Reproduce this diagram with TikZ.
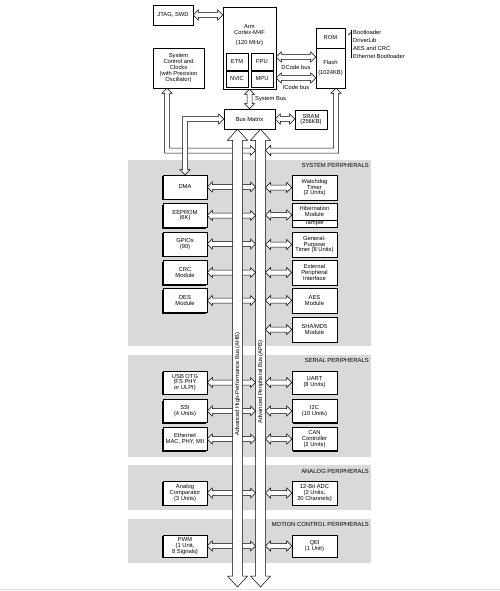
\documentclass[tikz,border=0pt]{standalone}
\usepackage{fontspec}
\setmainfont{Liberation Sans}
\usetikzlibrary{calc,shadows}
\newcommand\diafs{\fontsize{5.8}{5.8}\selectfont}
\newcommand\diafsw{\fontsize{5.8}{8}\selectfont}
\newcommand\diafsl{\fontsize{5.9}{6}\selectfont}
\def\arsw{2.5pt}\def\arhw{5pt}\def\arhl{5pt}
\tikzset{
  box/.style={draw, line width=0.6pt, fill=white, inner sep=0pt, align=center, font=\diafs},
  lbox/.style={box, minimum width=44pt, drop shadow={shadow xshift=-1pt, shadow yshift=-1pt, fill=black, opacity=1}},
  rbox/.style={box, minimum width=45pt, drop shadow={shadow xshift=1pt, shadow yshift=-1pt, fill=black, opacity=1}},
  panel/.style={fill=black!15, draw=none},
  plabel/.style={anchor=east, inner sep=0pt, font=\diafsl, text=black},
  lbl/.style={inner sep=0pt, font=\diafs},
  blk/.style={draw, line width=0.5pt, fill=white},
  harrow/.style={blk, to path={let \p1=(\tikztostart), \p2=(\tikztotarget) in
    (\p1) -- (\x1+\arhl,\y1+\arhw) -- (\x1+\arhl,\y1+\arsw) -- (\x2-\arhl,\y1+\arsw)
    -- (\x2-\arhl,\y1+\arhw) -- (\x2,\y1) -- (\x2-\arhl,\y1-\arhw) -- (\x2-\arhl,\y1-\arsw)
    -- (\x1+\arhl,\y1-\arsw) -- (\x1+\arhl,\y1-\arhw) -- cycle}},
  varrow/.style={blk, to path={let \p1=(\tikztostart), \p2=(\tikztotarget) in
    (\p1) -- (\x1+\arhw,\y1-\arhl) -- (\x1+\arsw,\y1-\arhl) -- (\x1+\arsw,\y2+\arhl)
    -- (\x1+\arhw,\y2+\arhl) -- (\x1,\y2) -- (\x1-\arhw,\y2+\arhl) -- (\x1-\arsw,\y2+\arhl)
    -- (\x1-\arsw,\y1-\arhl) -- (\x1-\arhw,\y1-\arhl) -- cycle}}
}
\begin{document}
\begin{tikzpicture}[x=1pt,y=-1pt]
\useasboundingbox (0,0) rectangle (500,591);
\draw[black!12, line width=0.6pt] (0,589) -- (500,589);

% panels
\fill[panel] (128,160) rectangle (371,346);
\fill[panel] (128,355) rectangle (371,457);
\fill[panel] (128,465) rectangle (371,510);
\fill[panel] (128,519) rectangle (371,563);
\node[plabel] (lsys) at (369,165) {SYSTEM PERIPHERALS};
\node[plabel] (lser) at (369,360) {SERIAL PERIPHERALS};
\node[plabel] (lana) at (369,471) {ANALOG PERIPHERALS};
\node[plabel] (lmot) at (369,524) {MOTION CONTROL PERIPHERALS};

% top blocks
\node[box, minimum width=40pt, minimum height=20pt] (jtag) at (173,15) {JTAG, SWD};
\node[box, minimum width=53pt, minimum height=82pt] (arm) at (249.5,48) {};
\node[lbl, align=center] (armtxt) at (249.5,35) {Arm\\Cortex-M4F\\[4.2pt](120 MHz)};
\node[box, minimum width=22pt, minimum height=17pt] (etm) at (237,61.5) {ETM};
\node[box, minimum width=22pt, minimum height=17pt] (fpu) at (262,61.5) {FPU};
\node[box, minimum width=22pt, minimum height=16pt] (nvic) at (237,79) {NVIC};
\node[box, minimum width=22pt, minimum height=16pt] (mpu) at (262,79) {MPU};
\node[box, minimum width=29pt, minimum height=20pt] (rom) at (330.5,38) {ROM};
\node[box, minimum width=29pt, minimum height=40pt] (flash) at (330.5,68) {Flash\\[4pt](1024KB)};
\node[inner sep=0pt, font=\diafsw, align=left, anchor=west] (boot) at (353,44) {Bootloader\\DriverLib\\AES and CRC\\Ethernet Bootloader};
\draw[line width=0.9pt] ([xshift=-2pt]boot.north west) -- ([xshift=-2pt]boot.south west);
\draw[line width=0.6pt] ([xshift=-2pt,yshift=-3pt]boot.north west) -- ++(-3,2.5);
\node[box, minimum width=51pt, minimum height=40pt] (sysctl) at (178.5,68) {System\\Control and\\Clocks\\(with Precision\\Oscillator)};
\node[box, minimum width=51pt, minimum height=20pt] (busm) at (249.5,119) {Bus Matrix};
\node[box, minimum width=32pt, minimum height=19pt] (sram) at (311,119.5) {SRAM\\(256KB)};
\node[lbl] (dcl) at (296,67) {DCode bus};
\node[lbl] (icl) at (296,87) {ICode bus};
\node[lbl, anchor=west] (sbl) at (255,99) {System Bus};

% system peripherals
\node[lbox, minimum height=24pt] (dma) at (185,187) {DMA};
\node[lbox, minimum height=24pt] (eeprom) at (185,215.5) {EEPROM\\(6K)};
\node[lbox, minimum height=24pt] (gpio) at (185,244) {GPIOs\\(90)};
\node[lbox, minimum height=24pt] (crc) at (185,272.5) {CRC\\Module};
\node[lbox, minimum height=24pt] (des) at (185,300.5) {DES\\Module};
\node[rbox, minimum height=25pt] (wdt) at (314.5,187.5) {Watchdog\\Timer\\(2 Units)};
\node[rbox, minimum height=17pt] (hib) at (314.5,211.5) {Hibernation\\Module};
\node[rbox, minimum height=7pt] (tamper) at (314.5,223.5) {Tamper};
\node[rbox, minimum height=25pt] (gpt) at (314.5,244.5) {General-\\Purpose\\Timer (8 Units)};
\node[rbox, minimum height=25pt] (epi) at (314.5,272.5) {External\\Peripheral\\Interface};
\node[rbox, minimum height=25pt] (aes) at (314.5,300.5) {AES\\Module};
\node[rbox, minimum height=25pt] (sha) at (314.5,329.5) {SHA/MD5\\Module};

% serial
\node[lbox, minimum height=23pt] (usb) at (185,382.5) {USB OTG\\(FS PHY\\or ULPI)};
\node[lbox, minimum height=23pt] (ssi) at (185,411) {SSI\\(4 Units)};
\node[lbox, minimum height=23pt] (eth) at (185,439) {Ethernet\\MAC, PHY, MII};
\node[rbox, minimum height=23pt] (uart) at (314.5,382.5) {UART\\(8 Units)};
\node[rbox, minimum height=23pt] (i2c) at (314.5,411) {I2C\\(10 Units)};
\node[rbox, minimum height=23pt] (can) at (314.5,439) {CAN\\Controller\\(2 Units)};

% analog, motion
\node[lbox, minimum height=24pt] (acmp) at (185,493) {Analog\\Comparator\\(3 Units)};
\node[rbox, minimum height=24pt] (adc) at (314.5,493) {12-Bit ADC\\(2 Units,\\20 Channels)};
\node[lbox, minimum height=22pt] (pwm) at (185,546) {PWM\\(1 Unit,\\8 Signals)};
\node[rbox, minimum height=22pt] (qei) at (314.5,546) {QEI\\(1 Unit)};

% bus edge coordinates
\coordinate (apbL) at (255.5,0);
\coordinate (apbR) at (265.5,0);
\coordinate (ahbEnd) at (237.5,587);
\coordinate (apbEnd) at (260.5,587);

% left peripheral arrows (pass under AHB)
\foreach \nm in {dma,eeprom,gpio,crc,des,usb,ssi,eth,acmp,pwm}
  \draw[harrow] (\nm.east) to (apbL);
% right peripheral arrows
\foreach \nm in {wdt,gpt,epi,aes,sha,uart,i2c,can,adc,qei}
  \draw[harrow] (apbR |- \nm.west) to (\nm.west);
\draw[harrow] (apbR |- 0,215) to (hib.west);

% top arrows
\draw[harrow] (jtag.east) to (arm.west);
\draw[harrow] (arm.east |- 0,57) to (flash.west);
\draw[harrow] (arm.east |- 0,78) to (flash.west);
\draw[harrow] (busm.east) to (sram.west);
\draw[varrow] (arm.south) to (busm.north);

% L-shaped arrows
\draw[blk] let \p1=(167,0 |- sysctl.south), \p2=(apbL |- 0,150.5) in
  (\p1) -- (\x1+\arhw,\y1-\arhl) -- (\x1+\arsw,\y1-\arhl) -- (\x1+\arsw,\y2+\arsw)
  -- (\x2-\arhl,\y2+\arsw) -- (\x2-\arhl,\y2+\arhw) -- (\x2,\y2) -- (\x2-\arhl,\y2-\arhw)
  -- (\x2-\arhl,\y2-\arsw) -- (\x1-\arsw,\y2-\arsw) -- (\x1-\arsw,\y1-\arhl) -- (\x1-\arhw,\y1-\arhl) -- cycle;
\draw[blk] let \p1=(336,0 |- flash.south), \p2=(apbR |- 0,150.5) in
  (\p1) -- (\x1-\arhw,\y1-\arhl) -- (\x1-\arsw,\y1-\arhl) -- (\x1-\arsw,\y2+\arsw)
  -- (\x2+\arhl,\y2+\arsw) -- (\x2+\arhl,\y2+\arhw) -- (\x2,\y2) -- (\x2+\arhl,\y2-\arhw)
  -- (\x2+\arhl,\y2-\arsw) -- (\x1+\arsw,\y2-\arsw) -- (\x1+\arsw,\y1-\arhl) -- (\x1+\arhw,\y1-\arhl) -- cycle;
\draw[blk] let \p1=(busm.west), \p2=(185,0 |- dma.north) in
  (\p1) -- (\x1-\arhl,\y1+\arhw) -- (\x1-\arhl,\y1+\arsw) -- (\x2-\arsw,\y1+\arsw)
  -- (\x2-\arsw,\y2+\arhl) -- (\x2-\arhw,\y2+\arhl) -- (\x2,\y2) -- (\x2+\arhw,\y2+\arhl)
  -- (\x2+\arsw,\y2+\arhl) -- (\x2+\arsw,\y1-\arsw) -- (\x1-\arhl,\y1-\arsw) -- (\x1-\arhl,\y1-\arhw) -- cycle;

% main buses
\begin{scope}
\def\arsw{5pt}\def\arhw{10pt}\def\arhl{11pt}
\draw[varrow] (237.5,0 |- busm.south) to (ahbEnd);
\draw[varrow] (260.5,0 |- busm.south) to (apbEnd);
\end{scope}
\node[lbl, rotate=90] (ahbl) at (237.5,384) {Advanced High-Performance Bus (AHB)};
\node[lbl, rotate=90] (apbl) at (260.5,382) {Advanced Peripheral Bus (APB)};
\end{tikzpicture}
\end{document}
